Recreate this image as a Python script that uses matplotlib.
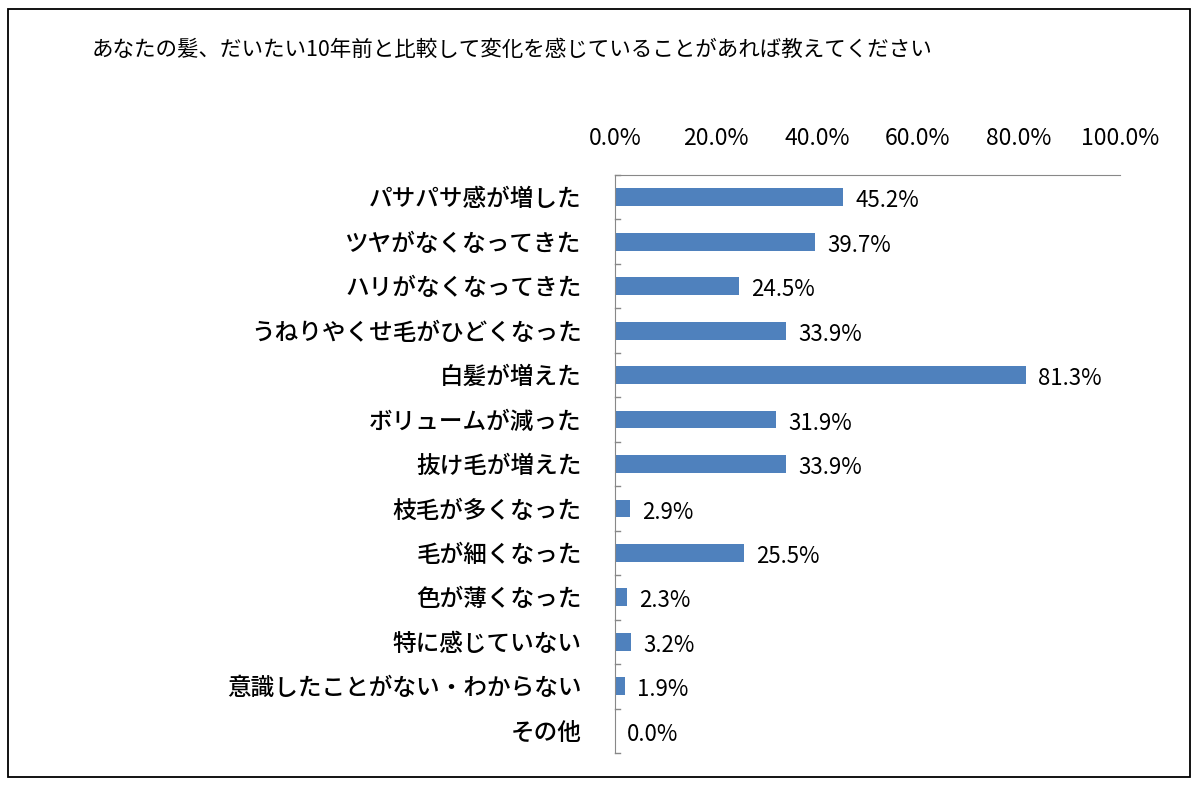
import matplotlib
matplotlib.use("Agg")
import matplotlib.pyplot as plt
from matplotlib.patches import Rectangle

plt.rcParams["font.family"] = "Noto Sans CJK JP"

title = "あなたの髪、だいたい10年前と比較して変化を感じていることがあれば教えてください"
categories = ["パサパサ感が増した", "ツヤがなくなってきた", "ハリがなくなってきた",
              "うねりやくせ毛がひどくなった", "白髪が増えた", "ボリュームが減った",
              "抜け毛が増えた", "枝毛が多くなった", "毛が細くなった", "色が薄くなった",
              "特に感じていない", "意識したことがない・わからない", "その他"]
values = [45.2, 39.7, 24.5, 33.9, 81.3, 31.9, 33.9, 2.9, 25.5, 2.3, 3.2, 1.9, 0.0]
xticks = [0, 20, 40, 60, 80, 100]

fig = plt.figure(figsize=(12, 7.86), dpi=100)
fig.patches.append(Rectangle((8/1200, 9/786), 1182/1200, 768/786, transform=fig.transFigure,
                             fill=False, edgecolor="black", linewidth=1.3))
fig.text(92/1200, 1-50/786, title, fontsize=15.5, va="center", ha="left")

ax = fig.add_axes([615/1200, 1-753/786, 505/1200, (753-175)/786])
y = list(range(len(categories)))
ax.barh(y, values, height=0.4, color="#4F81BD")
ax.set_ylim(len(categories)-0.5, -0.5)
ax.set_xlim(0, 100)
ax.set_yticks(y)
ax.set_yticklabels(categories, fontsize=17, fontweight="medium")
ax.set_xticks(xticks)
ax.set_xticklabels([f"{v:.1f}%" for v in xticks], fontsize=16.5)
ax.xaxis.tick_top()
ax.tick_params(axis="x", length=0, pad=18)
ax.tick_params(axis="y", length=0, pad=24)
for s in ["right", "bottom"]:
    ax.spines[s].set_visible(False)
ax.spines["top"].set_color("#888888")
ax.spines["left"].set_color("#888888")
for b in [i - 0.5 for i in range(len(categories)+1)]:
    ax.plot([0, 1.0], [b, b], color="#888888", lw=1, clip_on=False)
for yi, v in zip(y, values):
    ax.text(v + 2.4, yi + 0.08, f"{v:.1f}%", va="center", ha="left", fontsize=16)

fig.savefig("out.png", dpi=100)
